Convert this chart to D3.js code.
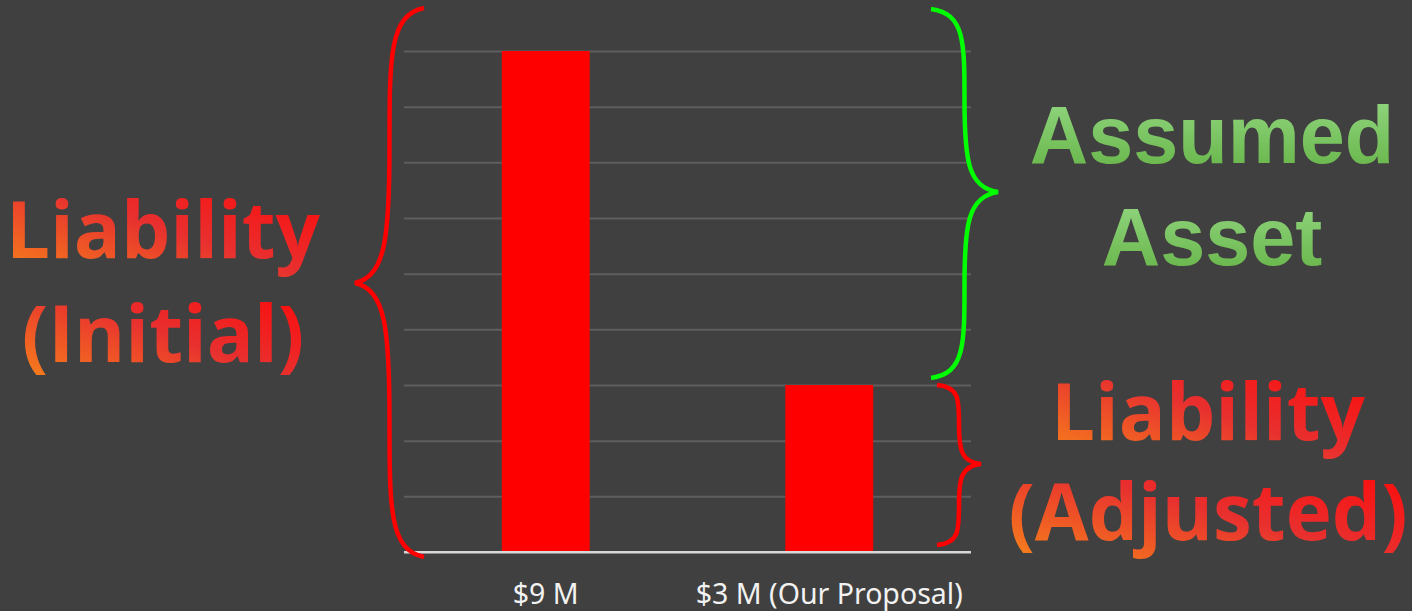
<!DOCTYPE html>
<html><head><meta charset="utf-8">
<script src="https://cdn.jsdelivr.net/npm/d3@7"></script>
<style>html,body{margin:0;padding:0;background:#404040;overflow:hidden}</style>
</head><body>
<svg id="c" width="1412" height="611"></svg>
<script>
const categories = ["$9 M", "$3 M (Our Proposal)"];
const values = [9, 3];
const yTicks = [0,1,2,3,4,5,6,7,8,9];
const leftLabel = ["Liability", "(Initial)"];
const rightTopLabel = ["Assumed", "Asset"];
const rightBottomLabel = ["Liability", "(Adjusted)"];

const svg = d3.select("#c");
svg.append("rect").attr("width",1412).attr("height",611).attr("fill","#404040");

const x = d3.scaleBand().domain(categories).range([404,971]).paddingInner(0.69).paddingOuter(0.345);
const y = d3.scaleLinear().domain([0,9]).range([552,51]);

const defs = svg.append("defs");
const red = defs.append("linearGradient").attr("id","redGrad").attr("x1",0).attr("y1",1).attr("x2",1).attr("y2",0);
red.append("stop").attr("offset",0).attr("stop-color","#f7861a");
red.append("stop").attr("offset",0.5).attr("stop-color","#e8302f");
red.append("stop").attr("offset",1).attr("stop-color","#ff0505");
const green = defs.append("linearGradient").attr("id","greenGrad").attr("x1",0).attr("y1",0).attr("x2",0).attr("y2",1);
green.append("stop").attr("offset",0).attr("stop-color","#95d985");
green.append("stop").attr("offset",1).attr("stop-color","#64b244");

// gridlines
const grid = svg.append("g").attr("transform","translate(404,0)")
  .call(d3.axisLeft(y).tickValues(yTicks).tickSize(-567).tickFormat(""));
grid.select(".domain").remove();
grid.selectAll(".tick line").attr("stroke", d => d===0 ? "#d9d9d9" : "#5e5e5e").attr("stroke-width",2);

// bars
svg.append("g").selectAll("rect").data(values).join("rect")
  .attr("x",(d,i)=>x(categories[i])).attr("width",x.bandwidth())
  .attr("y",d=>y(d)).attr("height",d=>y(0)-y(d)).attr("fill","#ff0000");
svg.append("line").attr("x1",404).attr("x2",971).attr("y1",y(0)).attr("y2",y(0)).attr("stroke","#d9d9d9").attr("stroke-width",2);

// x labels
const xa = svg.append("g").attr("transform",`translate(0,${y(0)})`)
  .call(d3.axisBottom(x).tickSize(0).tickPadding(0));
xa.select(".domain").remove();
xa.attr("font-size",null).attr("font-family",null);
xa.selectAll(".tick text").attr("y",52).attr("dy",0)
  .style("font-family","'Noto Sans', sans-serif").style("font-size","28.5px").attr("fill","#f2f2f2");

// braces
function brace(tx, px, y0, y1, ym){
  const m = (tx+px)/2;
  const q1 = (y0+ym)/2, q2 = (ym+y1)/2;
  const p = d3.path();
  p.moveTo(tx,y0);
  p.bezierCurveTo(m,y0+(q1-y0)*0.05, m,y0+(q1-y0)*0.35, m,q1);
  p.bezierCurveTo(m,q1+(ym-q1)*0.65, m+(px-m)*0.1,ym-(ym-q1)*0.05, px,ym);
  p.bezierCurveTo(m+(px-m)*0.1,ym+(q2-ym)*0.05, m,ym+(q2-ym)*0.35, m,q2);
  p.bezierCurveTo(m,q2+(y1-q2)*0.65, m,y1-(y1-q2)*0.05, tx,y1);
  return p.toString();
}
svg.append("path").attr("d",brace(424,355,8,557,283)).attr("fill","none").attr("stroke","#ff0000").attr("stroke-width",4.5);
svg.append("path").attr("d",brace(931,998,9,378,192)).attr("fill","none").attr("stroke","#00ff00").attr("stroke-width",4.5);
svg.append("path").attr("d",brace(937,981,385,545,464)).attr("fill","none").attr("stroke","#ff0000").attr("stroke-width",4.5);

function bigText(lines, cx, baselines, fill, family, size){
  lines.forEach((t,i)=>{
    svg.append("text").attr("x",cx).attr("y",baselines[i]).attr("text-anchor","middle")
      .attr("font-family",family).attr("font-weight",700).attr("font-size",size)
      .attr("fill",fill).text(t);
  });
}
bigText(leftLabel, 163, [258, 362], "url(#redGrad)", "'Open Sans', sans-serif", 78);
bigText(rightTopLabel, 1212, [163, 265], "url(#greenGrad)", "'Liberation Sans', Arial, sans-serif", 81);
bigText(rightBottomLabel, 1208, [440, 540], "url(#redGrad)", "'Open Sans', sans-serif", 78);
</script>
</body></html>
